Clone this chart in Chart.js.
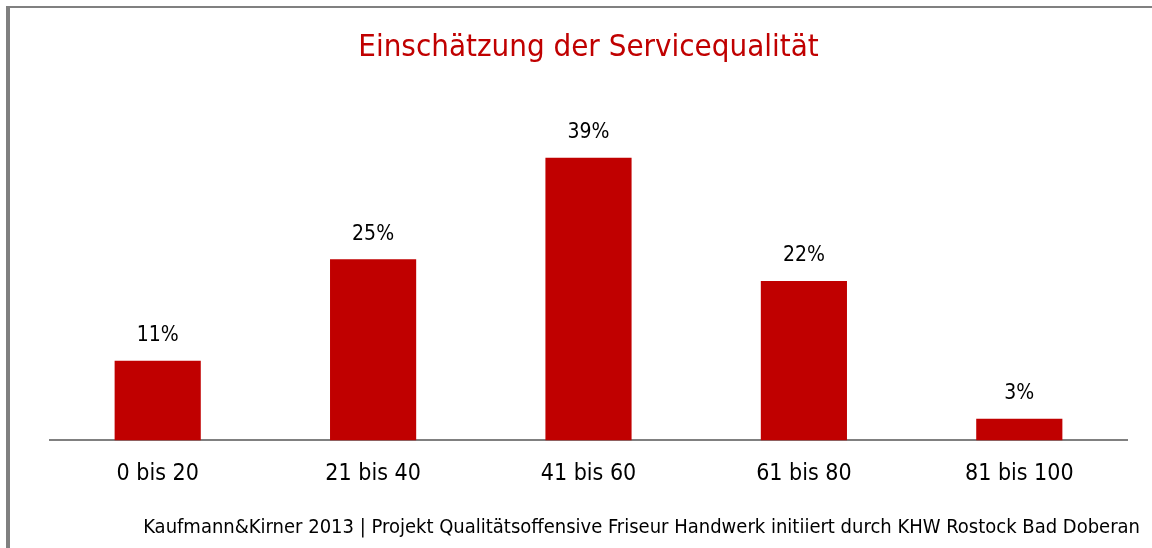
<!DOCTYPE html>
<html>
<head>
<meta charset="utf-8">
<script src="https://cdn.jsdelivr.net/npm/chart.js@4/dist/chart.umd.min.js"></script>
<style>
  html, body { margin: 0; padding: 0; background: #fff; }
  #wrap { width: 1152px; height: 548px; }
</style>
</head>
<body>
<div id="wrap"><canvas id="serviceChart" width="1152" height="548"></canvas></div>
<script>
const categories = ["0 bis 20", "21 bis 40", "41 bis 60", "61 bis 80", "81 bis 100"];
const shares = [11, 25, 39, 22, 3];
const titleText = "Einschätzung der Servicequalität";
const footerText = "Kaufmann&Kirner 2013 | Projekt Qualitätsoffensive Friseur Handwerk initiiert durch KHW Rostock Bad Doberan";

const fontFamily = '"DejaVu Sans Condensed", "Liberation Sans Narrow", "Roboto", sans-serif';
const red = "#C00000";

// Rahmen links und oben, Quelle unten rechts
const framePlugin = {
  id: "frame",
  beforeDraw(chart) {
    const c = chart.ctx;
    c.save();
    c.fillStyle = "#ffffff";
    c.fillRect(0, 0, chart.width, chart.height);
    c.fillStyle = "#808080";
    c.fillRect(6, 6, chart.width - 6, 2);
    c.fillRect(6, 6, 4, chart.height - 6);
    c.restore();
  },
  afterDraw(chart) {
    const c = chart.ctx;
    c.save();
    c.font = "20px " + fontFamily;
    c.fillStyle = "#000";
    c.textAlign = "right";
    c.textBaseline = "middle";
    c.fillText(footerText, 1140, 528);
    c.restore();
  },
};

// Prozentwerte über den Balken
const valueLabels = {
  id: "valueLabels",
  afterDatasetsDraw(chart) {
    const c = chart.ctx;
    const meta = chart.getDatasetMeta(0);
    c.save();
    c.font = "21px " + fontFamily;
    c.fillStyle = "#000";
    c.textAlign = "center";
    c.textBaseline = "middle";
    meta.data.forEach((bar, i) => {
      c.fillText(shares[i] + "%", bar.x, bar.y - 25);
    });
    c.restore();
  },
};

new Chart(document.getElementById("serviceChart"), {
  type: "bar",
  data: {
    labels: categories,
    datasets: [
      {
        data: shares,
        backgroundColor: red,
        borderWidth: 0,
        barPercentage: 0.4,
        categoryPercentage: 1,
      },
    ],
  },
  options: {
    responsive: false,
    animation: false,
    layout: { padding: { left: 50, right: 25, top: 0, bottom: 40 } },
    plugins: {
      legend: { display: false },
      tooltip: { enabled: false },
      title: {
        display: true,
        text: titleText,
        color: red,
        font: { family: fontFamily, size: 31, weight: "normal" },
        padding: { top: 29, bottom: 48 },
      },
    },
    scales: {
      x: {
        grid: { display: false, drawTicks: false },
        border: { display: true, color: "#808080", width: 2 },
        ticks: {
          color: "#000",
          font: { family: fontFamily, size: 23 },
          padding: 20,
        },
      },
      y: {
        display: false,
        min: 0,
        max: 45,
      },
    },
  },
  plugins: [framePlugin, valueLabels],
});
</script>
</body>
</html>
